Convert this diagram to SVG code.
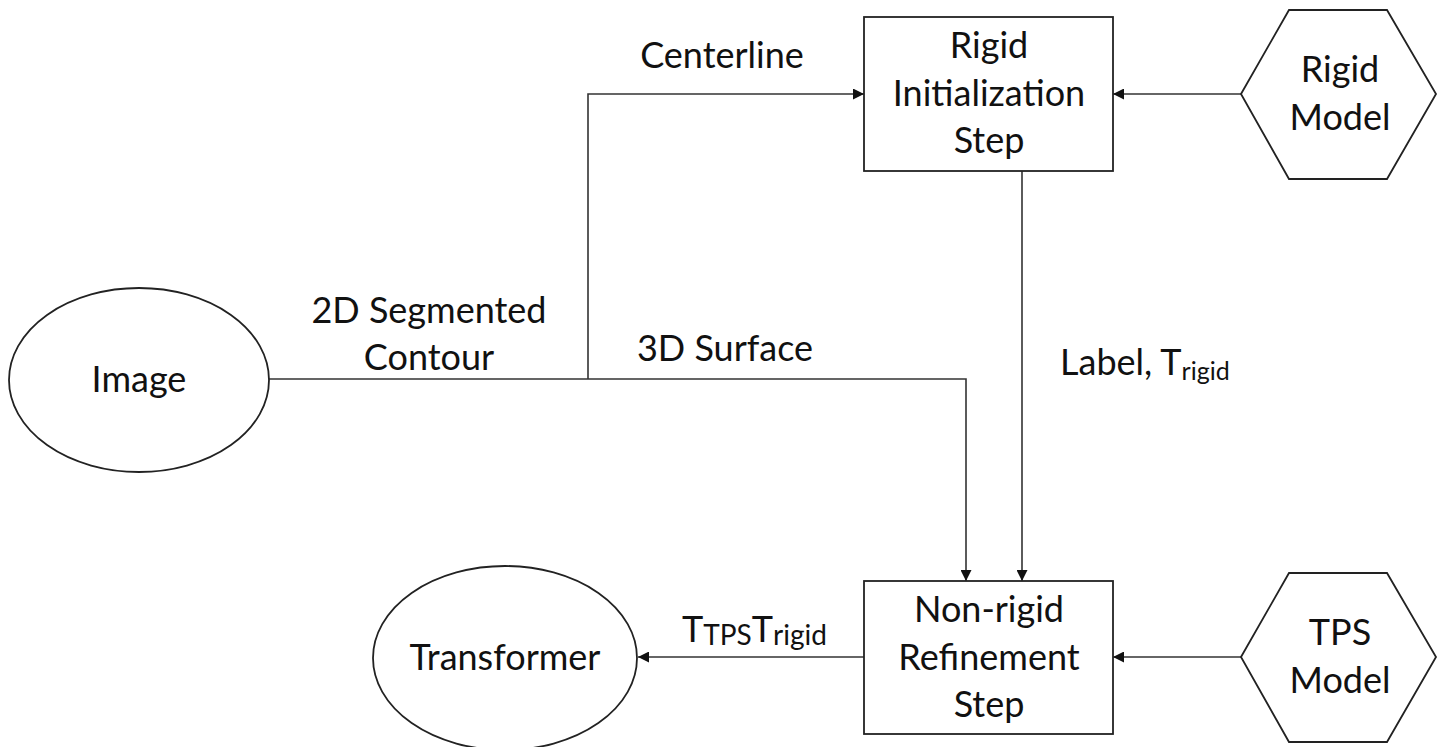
<svg xmlns="http://www.w3.org/2000/svg" width="1442" height="747" viewBox="0 0 1442 747">
  <defs>
    <marker id="arrow" markerUnits="userSpaceOnUse" markerWidth="12" markerHeight="11" refX="11" refY="5.5" orient="auto">
      <path d="M0,0 L11,5.5 L0,11 z" fill="#111"/>
    </marker>
    <style>
      text { font-family: Lato, "Open Sans", "Liberation Sans", sans-serif; font-size: 36px; fill: #111; }
      .c { text-anchor: middle; }
      .sub { font-size: 25px; }
      .sub2 { font-size: 28px; }
      .shape { fill: #fff; stroke: #222; stroke-width: 1.8; }
      .wire { fill: none; stroke: #333; stroke-width: 1.6; }
    </style>
  </defs>
  <rect width="1442" height="747" fill="#fff"/>

  <!-- connectors -->
  <g id="connectors">
    <path class="wire" d="M269,379 H966 V581" marker-end="url(#arrow)"/>
    <path class="wire" d="M588,379 V94 H864" marker-end="url(#arrow)"/>
    <path class="wire" d="M1241,94 H1113" marker-end="url(#arrow)"/>
    <path class="wire" d="M1022,171 V581" marker-end="url(#arrow)"/>
    <path class="wire" d="M1241,657 H1113" marker-end="url(#arrow)"/>
    <path class="wire" d="M864,657 H638" marker-end="url(#arrow)"/>
    <text class="c" x="722" y="68">Centerline</text>
    <text class="c" x="429" y="323">2D Segmented</text>
    <text class="c" x="429" y="370">Contour</text>
    <text class="c" x="725" y="361">3D Surface</text>
    <text x="1060" y="375">Label, T<tspan class="sub" dy="5">rigid</tspan></text>
    <text x="682" y="642">T<tspan class="sub2" dy="3">TPS</tspan><tspan dy="-3">T</tspan><tspan class="sub2" dy="3">rigid</tspan></text>
  </g>

  <g id="image">
    <ellipse class="shape" cx="139" cy="380" rx="130" ry="92"/>
    <text class="c" x="139" y="392">Image</text>
  </g>

  <g id="rigid-init">
    <rect class="shape" x="864" y="17" width="249" height="154"/>
    <text class="c" x="989" y="58">Rigid</text>
    <text class="c" x="989" y="106">Initialization</text>
    <text class="c" x="989" y="153">Step</text>
  </g>

  <g id="rigid-model">
    <polygon class="shape" points="1241,94 1289,10 1387,10 1436,94 1387,179 1289,179"/>
    <text class="c" x="1340" y="82">Rigid</text>
    <text class="c" x="1340" y="130">Model</text>
  </g>

  <g id="nonrigid">
    <rect class="shape" x="864" y="581" width="249" height="153"/>
    <text class="c" x="989" y="622">Non-rigid</text>
    <text class="c" x="989" y="670">Refinement</text>
    <text class="c" x="989" y="717">Step</text>
  </g>

  <g id="tps-model">
    <polygon class="shape" points="1241,657 1289,573 1387,573 1436,657 1387,742 1289,742"/>
    <text class="c" x="1340" y="645">TPS</text>
    <text class="c" x="1340" y="693">Model</text>
  </g>

  <g id="transformer">
    <ellipse class="shape" cx="505" cy="658" rx="132" ry="92"/>
    <text class="c" x="505" y="670">Transformer</text>
  </g>
</svg>
